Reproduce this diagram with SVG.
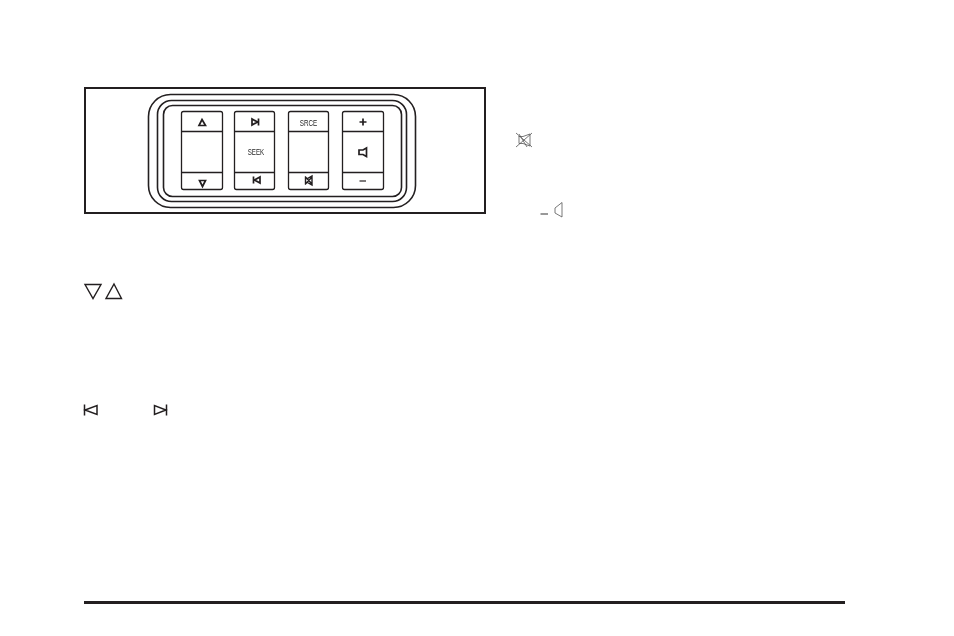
<svg xmlns="http://www.w3.org/2000/svg" width="954" height="636" viewBox="0 0 954 636">
<style>
.o{fill:none;stroke:#231f20;stroke-width:1.3}
.r{fill:none;stroke:#231f20;stroke-width:1.6}
.b{fill:#fff;stroke:#231f20;stroke-width:1.3}
.g{fill:none;stroke:#231f20;stroke-width:1.7}
.t{font-family:"Liberation Sans",Arial,sans-serif;font-size:8.5px;fill:#231f20;text-anchor:middle;filter:grayscale(1)}
</style>
<rect width="954" height="636" fill="#fff"/>
<g id="panel">
<rect x="85" y="88" width="400" height="125" fill="#fff" stroke="#231f20" stroke-width="2"/>
<rect x="148.500" y="94.500" width="267" height="113" rx="22" class="r"/>
<rect x="157.500" y="100.500" width="249" height="101" rx="14" class="r"/>
<rect x="163.500" y="105.500" width="238" height="91" rx="9" class="r"/>
</g>
<g id="button-updown">
<rect x="181.500" y="111.500" width="41" height="78" rx="2" class="b"/>
<path d="M181.500 131.500H222.500M181.500 172.500H222.500" class="o"/>
<path d="M202 119.500L205.500 125.500H199Z" class="g"/>
<path d="M199.500 180.500H205.500L202.500 186.500Z" class="g"/>
</g>
<g id="button-seek">
<rect x="234.500" y="111.500" width="40" height="78" rx="2" class="b"/>
<path d="M234.500 131.500H274.500M234.500 172.500H274.500" class="o"/>
<path d="M252 119V125L257.500 122ZM258.500 118.500V125.500" class="g"/>
<path d="M260 177V183L254.500 180ZM253.500 176.500V183.500" class="g"/>
<text x="256" y="154.500" class="t" textLength="16.500" lengthAdjust="spacingAndGlyphs">SEEK</text>
</g>
<g id="button-srce">
<rect x="288.500" y="111.500" width="40" height="78" rx="2" class="b"/>
<path d="M288.500 131.500H328.500M288.500 172.500H328.500" class="o"/>
<text x="308.500" y="125.500" class="t" textLength="17.500" lengthAdjust="spacingAndGlyphs">SRCE</text>
<path d="M305.500 178.500V182.500H307.500L312 185V176L307.500 178.500ZM305 176.500L312.500 184.500M312.500 176.500L305 184.500" fill="none" stroke="#231f20" stroke-width="1.4"/>
</g>
<g id="button-volume">
<rect x="342.500" y="111.500" width="41" height="78" rx="2" class="b"/>
<path d="M342.500 131.500H383.500M342.500 172.500H383.500" class="o"/>
<path d="M359.500 122H366.500M363 118.500V125.500" class="g"/>
<path d="M359.500 181H366" class="g" stroke-opacity=".7"/>
<path d="M359 150H363L366.500 148V156.500L363 154.500H359Z" class="g"/>
</g>
<g id="icon-down-up" fill="none" stroke="#231f20" stroke-width="1.4">
<path d="M85 284.500H101L93 298.500Z"/>
<path d="M114 284L121.500 298.500H106Z"/>
</g>
<g id="icon-prev-next" fill="none" stroke="#231f20" stroke-width="1.5">
<path d="M84.500 404.500V415.500M97 405.500V414.500L85 410Z"/>
<path d="M166.500 404.500V415.500M154.500 405.500V414.500L166 410Z"/>
</g>
<g id="icon-mute" fill="none" stroke="#555" stroke-width=".8">
<path d="M519 136V143.500H523L530 146V134L523 136.500H519ZM516 133L532 147M532 133L516 147M519 134L527 147"/>
</g>
<g id="icon-volume" fill="none" stroke="#555" stroke-width=".8">
<path d="M540.500 214H548" stroke-width="1.200"/>
<path d="M555 208V213L562 217V202.500Z"/>
</g>
<rect id="rule" x="84" y="601" width="761" height="3" fill="#231f20"/>
</svg>
